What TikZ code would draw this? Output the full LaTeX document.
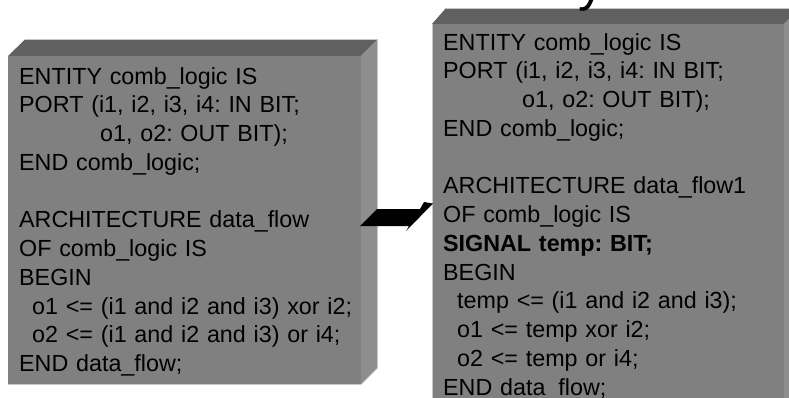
\documentclass[tikz,border=0pt]{standalone}
\usepackage{fontspec}
\setmainfont{Liberation Sans}
\definecolor{frontgray}{HTML}{808080}
\definecolor{topgray}{HTML}{606060}
\definecolor{sidegray}{HTML}{8E8E8E}
\definecolor{edgegray}{HTML}{C8C8C8}
\begin{document}
\begin{tikzpicture}[x=1pt,y=-1pt,
  front/.style={fill=frontgray},
  topface/.style={fill=topgray},
  sideface/.style={fill=sidegray},
  code/.style={anchor=base west, inner sep=0pt, text width=350pt, align=left,
    font=\fontsize{23.3}{28.75}\selectfont\frenchspacing, text=black}]
\useasboundingbox (0,0) rectangle (789,397);
\clip (0,0) rectangle (789,397);
\fill[white] (0,0) rectangle (789,397);
% left box
\fill[topface] (8,56) -- (25,39.5) -- (377.5,39.5) -- (361,56) -- cycle;
\fill[sideface] (361,56) -- (377.5,39.5) -- (377.5,368) -- (361,384.5) -- cycle;
\fill[front] (8,56) rectangle (361,384.5);
\draw[edgegray, line width=0.6pt] (25,39.5) -- (377.5,39.5) -- (377.5,368) -- (361,384.5) -- (8,384.5);
% right box
\fill[topface] (432,24) -- (446,8) -- (800,8) -- (784,24) -- cycle;
\fill[sideface] (784,24) -- (800,8) -- (800,420) -- (784,420) -- cycle;
\fill[front] (432,24) rectangle (784,420);
\draw[edgegray, line width=0.6pt] (446,8) -- (800,8);
\draw[edgegray, line width=0.6pt] (432,24) -- (432,420);
% partial title glyph
\node[anchor=base west, inner sep=0pt, font=\fontsize{52}{52}\selectfont] (title) at (578,0.5) {y};
% arrow
\fill[black] (360,226) -- (377,209) -- (420,209) -- (424,202) -- (433,203.5) -- (406,231) -- (409,226) -- cycle;
% texts
\node[code] (leftcode) at (19,84) {%
ENTITY comb\_logic IS\\
PORT (i1, i2, i3, i4: IN BIT;\\
\hspace*{81pt}o1, o2: OUT BIT);\\
END comb\_logic;\\
\mbox{}\\
ARCHITECTURE data\_flow\\
OF comb\_logic IS\\
BEGIN\\
\hspace*{13pt}o1 <= (i1 and i2 and i3) xor i2;\\
\hspace*{13pt}o2 <= (i1 and i2 and i3) or i4;\\
END data\_flow;};
\node[code] (rightcode) at (443,50) {%
ENTITY comb\_logic IS\\
PORT (i1, i2, i3, i4: IN BIT;\\
\hspace*{79pt}o1, o2: OUT BIT);\\
END comb\_logic;\\
\mbox{}\\
ARCHITECTURE data\_flow1\\
OF comb\_logic IS\\
\textbf{SIGNAL temp: BIT;}\\
BEGIN\\
\hspace*{14pt}temp <= (i1 and i2 and i3);\\
\hspace*{14pt}o1 <= temp xor i2;\\
\hspace*{14pt}o2 <= temp or i4;\\
END data\_flow;};
\end{tikzpicture}
\end{document}
